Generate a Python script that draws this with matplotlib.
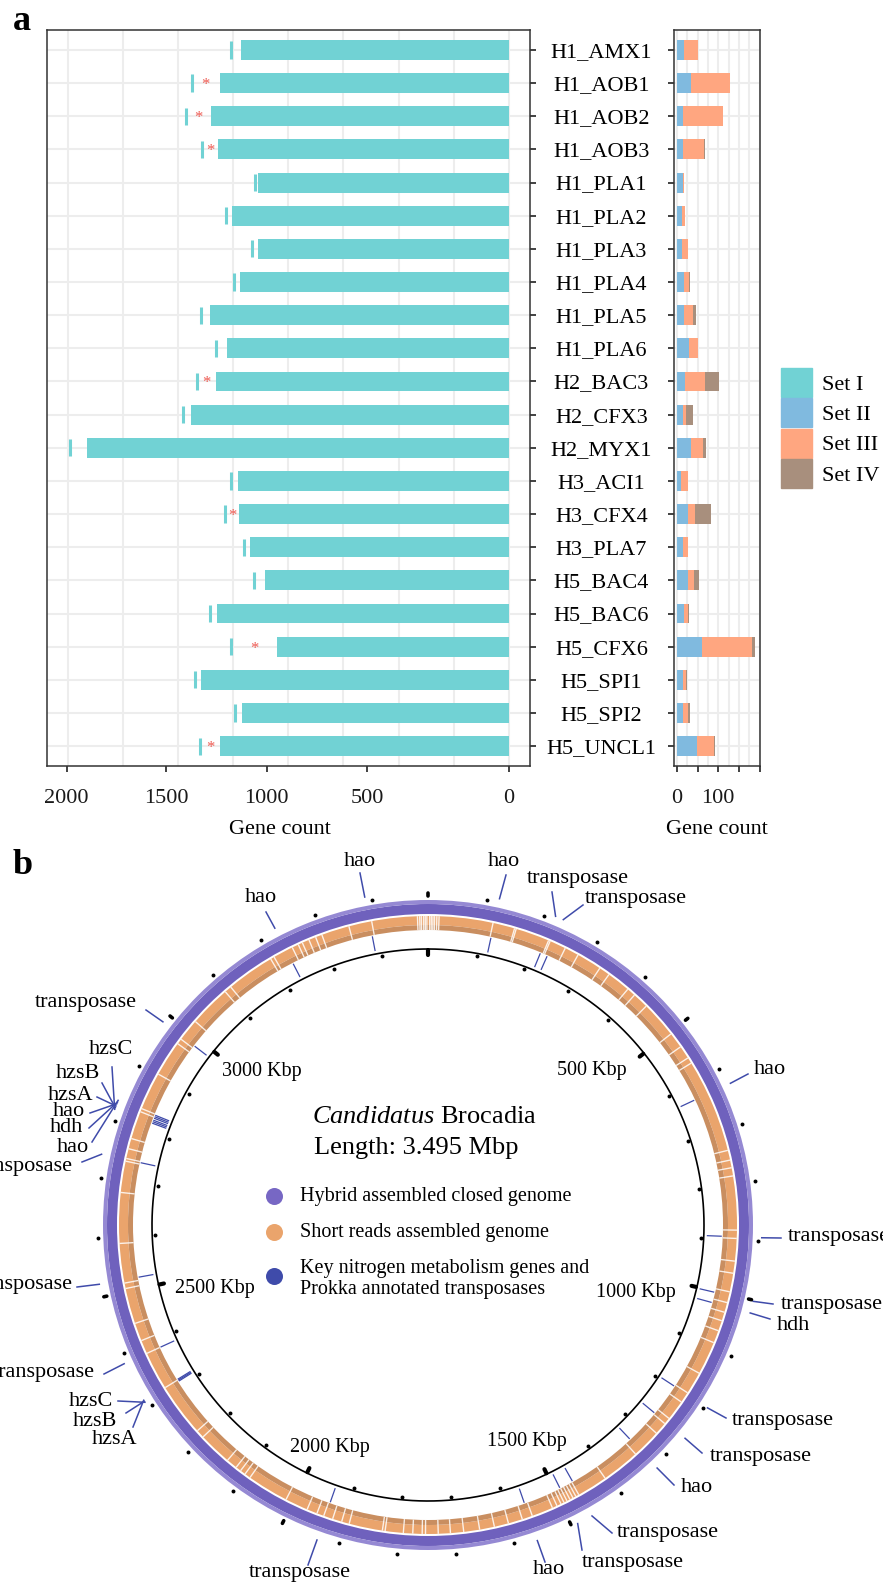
import numpy as np
import matplotlib.pyplot as plt
from matplotlib.patches import Patch

plt.rcParams['font.family'] = ['Liberation Serif', 'DejaVu Serif']
plt.rcParams['mathtext.fontset'] = 'custom'
plt.rcParams['mathtext.rm'] = 'Liberation Serif'
plt.rcParams['mathtext.it'] = 'Liberation Serif:italic'

W, H = 883, 1590

# ---------------------------------------------------------------------------
# DATA - panel a
# ---------------------------------------------------------------------------
GENOMES = ["H1_AMX1", "H1_AOB1", "H1_AOB2", "H1_AOB3", "H1_PLA1", "H1_PLA2",
           "H1_PLA3", "H1_PLA4", "H1_PLA5", "H1_PLA6", "H2_BAC3", "H2_CFX3",
           "H2_MYX1", "H3_ACI1", "H3_CFX4", "H3_PLA7", "H5_BAC4", "H5_BAC6",
           "H5_CFX6", "H5_SPI1", "H5_SPI2", "H5_UNCL1"]
SET1 = [1216, 1311, 1352, 1320, 1139, 1257, 1139, 1220, 1357, 1279, 1329,
        1443, 1916, 1230, 1225, 1174, 1107, 1325, 1051, 1397, 1211, 1311]
TOTAL = [1262, 1440, 1464, 1391, 1151, 1282, 1164, 1246, 1395, 1328, 1414,
         1478, 1994, 1260, 1286, 1200, 1156, 1355, 1260, 1423, 1242, 1400]
STARRED = ["H1_AOB1", "H1_AOB2", "H1_AOB3", "H2_BAC3", "H3_CFX4", "H5_CFX6",
           "H5_UNCL1"]
SET2 = [18, 33, 15, 14, 14, 13, 12, 16, 18, 29, 19, 14, 35, 11, 28, 14, 27,
        17, 61, 15, 15, 49]
SET3 = [34, 96, 96, 51, 4, 7, 14, 14, 21, 21, 49, 8, 27, 15, 16, 12, 14, 10,
        120, 7, 13, 40]
SET4 = [0, 0, 0, 2, 0, 0, 2, 1.5, 6, 0, 34, 17, 9, 1.5, 38, 1.5, 12, 1.5, 9,
        1.5, 3.5, 2]

XTICK_POS = [2007, 1556, 1098, 642, 0]
XTICK_LBL = ["2000", "1500", "1000", "500", "0"]

C1, C2, C3, C4 = "#71D2D4", "#80BADF", "#FFA680", "#A88F7D"
GRID = "#EDEDED"
SPINE = "#333333"

# ---------------------------------------------------------------------------
# DATA - panel b
# ---------------------------------------------------------------------------
GENOME_KBP = 3495
KBP_TICKS = [500, 1000, 1500, 2000, 2500, 3000]
KBP_LBL_DANG = [-4.9, 4.9, 1.0, -2.2, -4.0, 3.6]
KBP_LBL_R = [225, 218, 238, 243, 222, 226]

GENE_KBP = [120, 218, 232, 630, 895, 1002, 1022, 1196, 1259, 1327, 1462,
            1489, 1562, 1936, 2310, 2312, 2314, 2383, 2522, 2740,
            2818, 2821, 2824, 2828, 2831, 2834, 2985, 3230, 3389]
GENE_NAMES = ["hao", "transposase", "transposase", "hao", "transposase",
              "transposase", "hdh", "transposase", "transposase", "hao",
              "transposase", "transposase", "hao", "transposase",
              "hzsC", "hzsB", "hzsA", "transposase", "transposase",
              "transposase", "hzsC", "hzsB", "hzsA", "hao", "hdh", "hao",
              "transposase", "hao", "hao"]
# label layout: leader end and text anchor, pixel offsets from the centre
LEAD_END = [(78, -350), (124, -333), (155, -320), (320, -151), (353, 13),
            (345, 79), (342, 94), (298, 193), (274, 228), (246, 260),
            (184, 308), (154, 325), (117, 337), (-120, 340),
            (-310, 176), (-302, 188), (-295, 202), (-324, 149), (-351, 62),
            (-346, -63), (-316, -158), (-326, -142), (-331, -128),
            (-338, -112), (-339, -97), (-336, -83), (-282, -215),
            (-162, -313), (-68, -352)]
TEXT_POS = [(76, -363), (150, -347), (157, -327), (326, -155), (360, 12),
            (353, 80), (349, 100), (304, 195), (282, 231), (253, 262),
            (189, 308), (154, 337), (121, 345), (-128, 348),
            (-315, 177), (-311, 197), (-291, 215), (-333, 147), (-355, 60),
            (-355, -58), (-317, -175), (-328, -152), (-335, -130),
            (-343, -113), (-345, -97), (-339, -78), (-291, -222),
            (-167, -327), (-68, -363)]
TEXT_HA = ["center", "center", "left", "left", "left", "left", "left", "left",
           "left", "left", "left", "left", "center", "center",
           "right", "right", "right", "right", "right", "right",
           "center", "right", "right", "right", "right", "right", "right",
           "center", "center"]

# gaps of the short-read assembly (Kbp)
GAPS = [3393, 3476, 3480, 3483, 3487, 3490, 3493, 3, 6, 9, 12, 16, 20, 118,
        158, 161, 223, 226, 256, 282, 328, 348, 391, 407, 436, 503, 532, 556,
        567, 738, 756, 770, 785, 883, 898, 939, 961, 995, 1015, 1033, 1049,
        1068, 1091, 1152, 1193, 1213, 1250, 1262, 1285, 1338, 1408, 1464,
        1470, 1476, 1482, 1488, 1494, 1500, 1508, 1517, 1556, 1575, 1601,
        1627, 1654, 1683, 1707, 1729, 1752, 1758, 1775, 1792, 1825, 1830,
        1891, 1905, 1922, 1939, 1952, 1971, 2013, 2089, 2100, 2110, 2120,
        2140, 2201, 2216, 2313, 2383, 2408, 2441, 2506, 2516, 2588, 2680,
        2737, 2742, 2760, 2779, 2830, 2836, 2905, 2970, 2980, 3021, 3097,
        3110, 3198, 3205, 3242, 3254, 3262, 3275, 3288, 3300, 3351]

PURPLE, PURPLE_LT = "#6F61BD", "#9589D3"
ORANGE, ORANGE_DK = "#EAA46C", "#C98E60"
GENE_BLUE = "#3F4BAA"


def px_rect(x0, y0, x1, y1):
    return [x0 / W, 1 - y1 / H, (x1 - x0) / W, (y1 - y0) / H]


fig = plt.figure(figsize=(W / 100, H / 100), dpi=100)

# ---------------------------------------------------------------------------
# PANEL a - left: Set I counts
# ---------------------------------------------------------------------------
rows = np.arange(len(GENOMES))
axL = fig.add_axes(px_rect(47.3, 30.4, 530, 765.7))
axR = fig.add_axes(px_rect(674, 30.4, 760, 765.7))

for v in np.arange(0, 2001, 250):
    axL.axvline(v, color=GRID, lw=1.5, zorder=0)
for r in rows:
    axL.axhline(r, color=GRID, lw=1.5, zorder=0)

axL.barh(rows, SET1, height=0.6, color=C1, zorder=2)
axL.vlines(TOTAL, rows - 0.26, rows + 0.26, color=C1, lw=2.2, zorder=2)
for i, g in enumerate(GENOMES):
    if g in STARRED:
        axL.text((SET1[i] + TOTAL[i]) / 2, i + 0.06, "*", color="#EE5A52",
                 ha="center", va="center", fontsize=12, zorder=3)

axL.set_xlim(2095, -97)
axL.set_ylim(len(GENOMES) - 0.41, -0.59)
axL.set_xticks(XTICK_POS, XTICK_LBL)
axL.yaxis.tick_right()
axL.set_yticks(rows, [])
axL.tick_params(axis="both", length=4, width=1.3, color=SPINE,
                labelsize=16, labelcolor="#1A1A1A")
axL.tick_params(axis="x", pad=12.5)
for s in axL.spines.values():
    s.set_color(SPINE)
    s.set_linewidth(1.1)
axL.set_xlabel("Gene count", fontsize=16, va="center")
axL.xaxis.set_label_coords(0.482, (765.7 - 829) / 735.3)

# ---------------------------------------------------------------------------
# PANEL a - right: Set II-IV stacked
# ---------------------------------------------------------------------------
for v in np.arange(0, 201, 25):
    axR.axvline(v, color=GRID, lw=1.5, zorder=0)
for r in rows:
    axR.axhline(r, color=GRID, lw=1.5, zorder=0)

s2 = np.array(SET2, float)
s3 = np.array(SET3, float)
s4 = np.array(SET4, float)
axR.barh(rows, s2, height=0.6, color=C2, zorder=2)
axR.barh(rows, s3, left=s2, height=0.6, color=C3, zorder=2)
axR.barh(rows, s4, left=s2 + s3, height=0.6, color=C4, zorder=2)

axR.set_xlim(-7, 201)
axR.set_ylim(len(GENOMES) - 0.41, -0.59)
axR.set_xticks([0, 50, 100, 150, 200], ["0", "", "100", "", ""])
axR.set_yticks(rows, GENOMES)
axR.tick_params(axis="both", length=4, width=1.3, color=SPINE,
                labelsize=16, labelcolor="#1A1A1A")
axR.tick_params(axis="x", pad=12.5)
axR.tick_params(axis="y", pad=48.2, labelcolor="black")
for lab in axR.get_yticklabels():
    lab.set_horizontalalignment("center")
for s in axR.spines.values():
    s.set_color(SPINE)
    s.set_linewidth(1.1)
axR.set_xlabel("Gene count", fontsize=16, va="center")
axR.xaxis.set_label_coords(0.5, (765.7 - 829) / 735.3)

handles = [Patch(color=c) for c in (C1, C2, C3, C4)]
fig.legend(handles, ["Set I", "Set II", "Set III", "Set IV"],
           loc="center left", bbox_to_anchor=(781 / W, 1 - 428 / H),
           frameon=False, fontsize=16, handlelength=1.4, handleheight=1.62,
           labelspacing=0.06, handletextpad=0.45, borderpad=0,
           borderaxespad=0)

# ---------------------------------------------------------------------------
# PANEL b - circular genome
# ---------------------------------------------------------------------------
CX, CY, RPX = 428, 1225, 340
axB = fig.add_axes(px_rect(CX - RPX, CY - RPX, CX + RPX, CY + RPX),
                   projection="polar")
axB.set_theta_zero_location("N")
axB.set_theta_direction(-1)
axB.set_ylim(0, RPX)
axB.axis("off")


def th(kbp):
    return np.asarray(kbp, float) / GENOME_KBP * 2 * np.pi


def px_polar(dx, dy):
    return np.arctan2(dx, -dy), np.hypot(dx, dy)


FULL = 2 * np.pi
axB.bar(0, 10, width=FULL, bottom=311, color=PURPLE, lw=0)
axB.bar(0, 4, width=FULL, bottom=321, color=PURPLE_LT, lw=0)
axB.bar(0, 9, width=FULL, bottom=300, color=ORANGE, lw=0)
axB.bar(0, 5, width=FULL, bottom=295, color=ORANGE_DK, lw=0)
axB.bar(th(GAPS), 14, width=0.0045, bottom=295, color="white", alpha=0.85,
        lw=0)

circ = np.linspace(0, FULL, 720)
axB.plot(circ, np.full_like(circ, 276), color="black", lw=1.2)

ticks = np.arange(0, GENOME_KBP, 100)
minor = ticks % 500 != 0
axB.scatter(th(ticks[minor]), np.full(minor.sum(), 273), s=8, c="black",
            lw=0, zorder=4)
axB.scatter(th(ticks[minor]), np.full(minor.sum(), 330), s=8, c="black",
            lw=0, zorder=4, clip_on=False)
for t in th(ticks[~minor]):
    axB.plot([t, t], [270.5, 275], color="black", lw=3,
             solid_capstyle="round", zorder=4)
    axB.plot([t, t], [329, 332], color="black", lw=2.6,
             solid_capstyle="round", zorder=4, clip_on=False)

for k, dang, r in zip(KBP_TICKS, KBP_LBL_DANG, KBP_LBL_R):
    axB.text(th(k) + np.deg2rad(dang), r, f"{k} Kbp", fontsize=14.5,
             ha="center", va="center")

# gene marks and labels
axB.vlines(th(GENE_KBP), 279, 294, color=GENE_BLUE, lw=0.9, zorder=3)
for k, name, le, tp, ha in zip(GENE_KBP, GENE_NAMES, LEAD_END, TEXT_POS,
                               TEXT_HA):
    te, re = px_polar(*le)
    tt, rt = px_polar(*tp)
    axB.plot([th(k), te], [334, re], color=GENE_BLUE, lw=1.1, clip_on=False)
    axB.text(tt, rt, name, fontsize=16, ha=ha, va="center", clip_on=False)


def ax_frac(dx, dy):
    return 0.5 + dx / (2 * RPX), 0.5 - dy / (2 * RPX)


axB.text(*ax_frac(-4, -108), r"$\it{Candidatus}$ Brocadia", fontsize=19,
         ha="center", va="center", transform=axB.transAxes)
axB.text(*ax_frac(-12, -77), "Length: 3.495 Mbp", fontsize=19,
         ha="center", va="center", transform=axB.transAxes)

LEG_COLORS = ["#7767C4", ORANGE, GENE_BLUE]
LEG_TEXT = ["Hybrid assembled closed genome", "Short reads assembled genome",
            "Key nitrogen metabolism genes and\nProkka annotated transposases"]
LEG_DY = [-29, 7, 51]
LEG_TY = [-29, 7, 54]
for c, txt, dy, ty in zip(LEG_COLORS, LEG_TEXT, LEG_DY, LEG_TY):
    axB.scatter(*ax_frac(-154, dy), s=150, c=c, lw=0,
                transform=axB.transAxes)
    axB.text(*ax_frac(-128, ty), txt, fontsize=14.5, ha="left", va="center",
             linespacing=1.2, transform=axB.transAxes)

fig.text(13 / W, 1 - 30 / H, "a", fontsize=26, fontweight="bold",
         va="baseline")
fig.text(13 / W, 1 - 874 / H, "b", fontsize=26, fontweight="bold",
         va="baseline")

fig.savefig("out.png", dpi=100)
